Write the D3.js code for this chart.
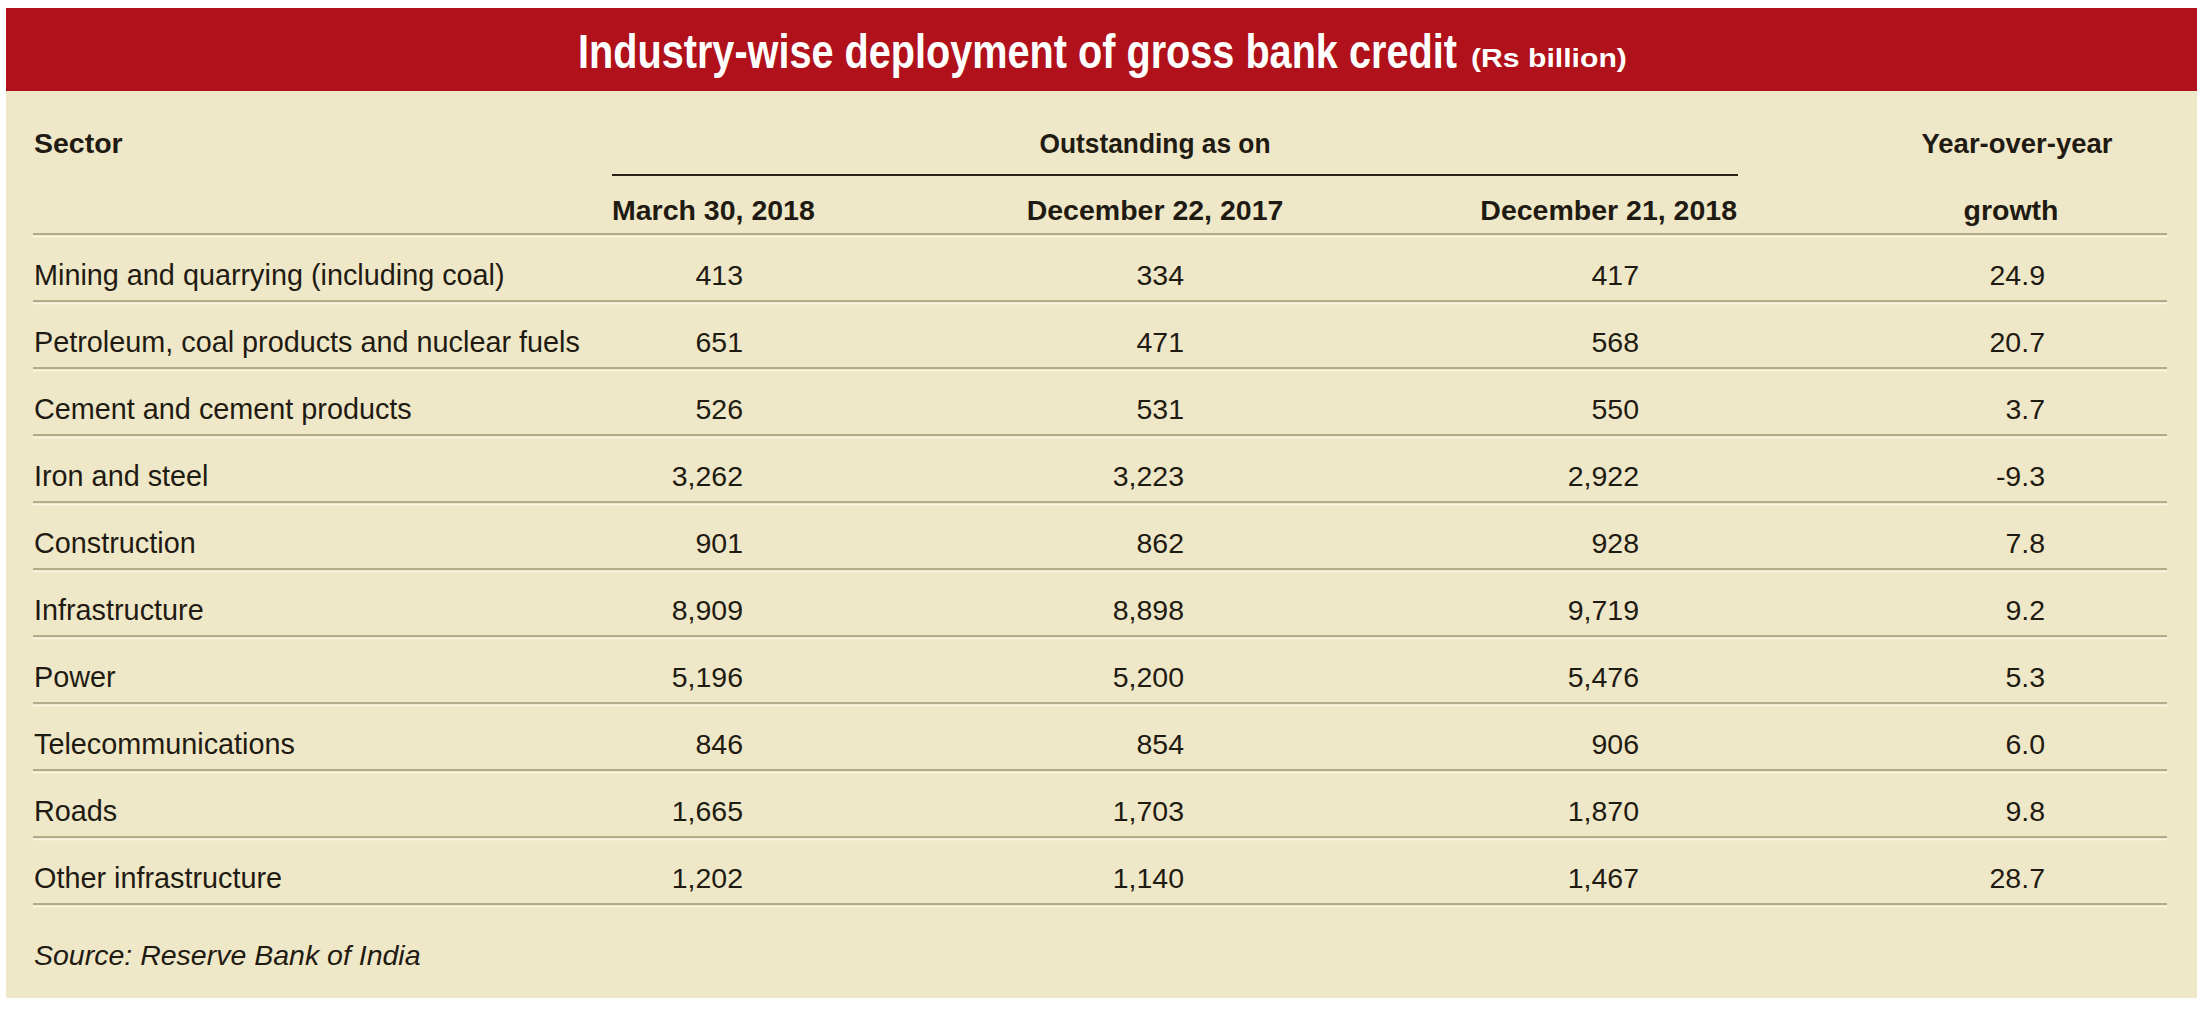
<!DOCTYPE html>
<html>
<head>
<meta charset="utf-8">
<script src="https://cdn.jsdelivr.net/npm/d3@7"></script>
<style>
  html, body { margin: 0; padding: 0; background: #ffffff; }
  svg { display: block; }
  text { font-family: "Liberation Sans", Arial, sans-serif; fill: #1f1b12; }
</style>
</head>
<body>
<svg id="chart" width="2209" height="1012"></svg>
<script>
// ---- data ----
const titleMain = "Industry-wise deployment of gross bank credit";
const titleUnit = "(Rs billion)";
const sectors = [
  "Mining and quarrying (including coal)",
  "Petroleum, coal products and nuclear fuels",
  "Cement and cement products",
  "Iron and steel",
  "Construction",
  "Infrastructure",
  "Power",
  "Telecommunications",
  "Roads",
  "Other infrastructure"
];
const mar2018 = [413, 651, 526, 3262, 901, 8909, 5196, 846, 1665, 1202];
const dec2017 = [334, 471, 531, 3223, 862, 8898, 5200, 854, 1703, 1140];
const dec2018 = [417, 568, 550, 2922, 928, 9719, 5476, 906, 1870, 1467];
const yoyGrowth = [24.9, 20.7, 3.7, -9.3, 7.8, 9.2, 5.3, 6.0, 9.8, 28.7];
const columnKeys = ["mar2018", "dec2017", "dec2018", "growth"];
const columnHeaders = ["March 30, 2018", "December 22, 2017", "December 21, 2018", "growth"];
const groupHeader = "Outstanding as on";
const growthHeader = "Year-over-year";
const sectorHeader = "Sector";
const sourceNote = "Source: Reserve Bank of India";

// ---- layout ----
const svg = d3.select("#chart");
const panel = {x0: 6, x1: 2197, top: 8, titleBottom: 91, bottom: 998};
const lineX0 = 33, lineX1 = 2167;
const red = "#b1111a", beige = "#efe8c8";

const loc = d3.formatLocale({decimal: ".", thousands: ",", grouping: [3], currency: ["", ""], minus: "-"});
const fmtInt = loc.format(",");
const fmtPct = loc.format(".1f");

const seriesMap = {mar2018, dec2017, dec2018, growth: yoyGrowth};

// scales
const y = d3.scaleBand().domain(sectors).range([234, 234 + 67 * sectors.length]).padding(0);
const xRight = d3.scaleOrdinal().domain(columnKeys).range([743, 1184, 1639, 2045]);

// background
svg.append("rect").attr("x", panel.x0).attr("y", panel.top)
  .attr("width", panel.x1 - panel.x0).attr("height", panel.bottom - panel.top)
  .attr("fill", beige);
svg.append("rect").attr("x", panel.x0).attr("y", panel.top)
  .attr("width", panel.x1 - panel.x0).attr("height", panel.titleBottom - panel.top)
  .attr("fill", red);

// title: each part condensed horizontally to the reference width
const tf = "'Open Sans', 'Noto Sans', sans-serif";
function condensedText(str, size, x0, x1, baseline) {
  const g = svg.append("g");
  const t = g.append("text").attr("x", 0).attr("y", 0)
    .attr("font-family", tf).attr("font-weight", 600).attr("font-size", size)
    .style("fill", "#ffffff").text(str);
  const s = (x1 - x0) / t.node().getComputedTextLength();
  g.attr("transform", `translate(${x0},${baseline}) scale(${s},1)`);
}
condensedText(titleMain, 48, 578, 1457, 68);
condensedText(titleUnit, 26, 1471, 1627, 67);

// rule helper
function rule(yy, x0, x1) {
  svg.append("line").attr("x1", x0).attr("x2", x1).attr("y1", yy).attr("y2", yy)
    .attr("stroke", "#b2ac8b").attr("stroke-width", 2.2);
  svg.append("line").attr("x1", x0).attr("x2", x1).attr("y1", yy + 2.6).attr("y2", yy + 2.6)
    .attr("stroke", "#faf6e4").attr("stroke-width", 1.2);
}

// headers
const hdr = svg.append("g").attr("font-weight", "bold").attr("font-size", 28.5);
hdr.append("text").attr("x", 34).attr("y", 153).text(sectorHeader);
hdr.append("text").attr("x", 1155).attr("y", 153).attr("text-anchor", "middle")
  .attr("textLength", 231).attr("lengthAdjust", "spacingAndGlyphs").text(groupHeader);
hdr.append("text").attr("x", 2017).attr("y", 153).attr("text-anchor", "middle")
  .attr("textLength", 191).attr("lengthAdjust", "spacingAndGlyphs").text(growthHeader);
svg.append("line").attr("x1", 612).attr("x2", 1738).attr("y1", 175).attr("y2", 175)
  .attr("stroke", "#2a2418").attr("stroke-width", 2);

const subX = [612, 1155, 1737, 2011];
const subAnchor = ["start", "middle", "end", "middle"];
hdr.selectAll("text.sub").data(columnHeaders).join("text")
  .attr("class", "sub")
  .attr("x", (d, i) => subX[i]).attr("y", 220)
  .attr("text-anchor", (d, i) => subAnchor[i])
  .text(d => d);

rule(y.range()[0], lineX0, lineX1);

// rows
const rows = svg.selectAll("g.row").data(sectors).join("g").attr("class", "row")
  .attr("transform", d => `translate(0,${y(d) + y.bandwidth()})`);

rows.append("text").attr("x", 34).attr("y", -16).attr("font-size", 28.8).text(d => d);

rows.each(function(d, i) {
  const g = d3.select(this);
  columnKeys.forEach(k => {
    const v = seriesMap[k][i];
    g.append("text").attr("x", xRight(k)).attr("y", -16)
      .attr("text-anchor", "end").attr("font-size", 28.5)
      .text(k === "growth" ? fmtPct(v) : fmtInt(v));
  });
});

sectors.forEach(s => rule(y(s) + y.bandwidth(), lineX0, lineX1));

// source
svg.append("text").attr("x", 34).attr("y", 965).attr("font-style", "italic")
  .attr("font-size", 28.5).text(sourceNote);
</script>
</body>
</html>
